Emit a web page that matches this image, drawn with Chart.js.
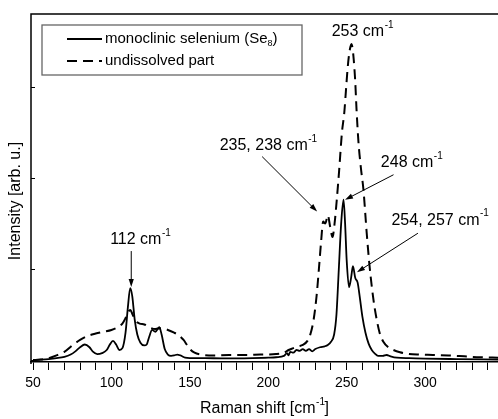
<!DOCTYPE html>
<html>
<head>
<meta charset="utf-8">
<script src="https://cdn.jsdelivr.net/npm/chart.js@4/dist/chart.umd.min.js"></script>
<style>
  html, body { margin: 0; padding: 0; background: #fff; }
  #wrap { width: 498px; height: 419px; }
</style>
</head>
<body>
<div id="wrap"><canvas id="c" width="498" height="419"></canvas></div>
<script>
// Raman spectra: monoclinic Se8 and the undissolved residue
const monoShift = [50, 55, 60, 65, 70, 74, 77, 80, 83, 86, 88, 91, 94, 97, 99, 101, 103, 105, 107, 109,
  110.5, 112, 113.3, 114.8, 116.5, 118.5, 121, 122.5, 124, 126, 128, 130.5, 132, 134, 136, 138, 140, 142,
  144, 147, 150, 160, 170, 180, 190, 200, 205, 210, 212, 213, 214, 216, 218, 220, 222, 224, 226, 228, 230,
  233, 236, 238, 240, 242, 243.5, 245, 246.5, 248, 249, 250, 251.5, 252.8, 254, 255.5, 257, 258.3, 260,
  262, 264, 266, 268, 270, 273, 275.5, 278, 282, 290, 300, 320, 347];
const monoIntensity = [0.0, 0.004, 0.01, 0.02, 0.035, 0.06, 0.095, 0.14, 0.17, 0.14, 0.095, 0.065, 0.075,
  0.11, 0.17, 0.21, 0.17, 0.11, 0.13, 0.3, 0.58, 0.79, 0.7, 0.45, 0.28, 0.19, 0.16, 0.17, 0.25, 0.33, 0.31,
  0.36, 0.28, 0.12, 0.06, 0.045, 0.05, 0.06, 0.05, 0.025, 0.02, 0.02, 0.018, 0.018, 0.02, 0.025, 0.03,
  0.045, 0.075, 0.05, 0.09, 0.08, 0.11, 0.1, 0.12, 0.1, 0.12, 0.095, 0.12, 0.14, 0.15, 0.165, 0.2, 0.28,
  0.5, 1.0, 1.5, 1.76, 1.5, 1.1, 0.8, 0.9, 1.03, 0.9, 0.85, 0.7, 0.48, 0.3, 0.18, 0.11, 0.07, 0.045,
  0.045, 0.055, 0.04, 0.025, 0.02, 0.015, 0.01, 0.005];

const undisShift = [50, 55, 60, 65, 70, 75, 80, 85, 90, 95, 100, 104, 107, 109, 110.8, 112, 113.5, 115.5,
  118, 121, 124, 128, 132, 136, 140, 143, 146, 148, 150, 153, 157, 165, 175, 185, 195, 205, 210, 213, 216,
  219, 222, 225, 227, 229, 230.8, 232.3, 233.7, 235, 236.4, 238, 239.4, 241, 242.3, 243.7, 245.2, 247,
  248.5, 249.5, 250.5, 251.5, 252.4, 253, 253.8, 254.5, 255.4, 256.3, 257.5, 259, 260.7, 262.8, 264.5,
  266, 267.6, 269.2, 271, 273.4, 276.5, 279.8, 284, 288.3, 295, 305, 315, 325, 335, 347];
const undisIntensity = [0.0, 0.005, 0.02, 0.05, 0.09, 0.16, 0.22, 0.265, 0.29, 0.31, 0.33, 0.36, 0.4,
  0.46, 0.53, 0.55, 0.5, 0.43, 0.4, 0.39, 0.36, 0.34, 0.35, 0.33, 0.3, 0.27, 0.22, 0.17, 0.12, 0.08, 0.06,
  0.05, 0.055, 0.055, 0.06, 0.065, 0.08, 0.11, 0.13, 0.15, 0.165, 0.21, 0.29, 0.45, 0.7, 1.0, 1.3, 1.52,
  1.5, 1.59, 1.47, 1.35, 1.5, 1.76, 2.08, 2.5, 2.72, 2.95, 3.18, 3.35, 3.44, 3.47, 3.42, 3.3, 3.08, 2.75,
  2.4, 2.12, 1.87, 1.39, 1.05, 0.81, 0.6, 0.44, 0.3, 0.2, 0.14, 0.11, 0.085, 0.07, 0.06, 0.055, 0.05,
  0.04, 0.03, 0.025];

const xTickValues = [50, 60, 70, 80, 90, 100, 110, 120, 130, 140, 150, 160, 170, 180, 190, 200, 210, 220,
  230, 240, 250, 260, 270, 280, 290, 300, 310, 320, 330, 340];
const xLabelStep = 50;
const yTickValues = [0, 1, 2, 3];

const legendNames = [
  [{ t: 'monoclinic selenium (Se' }, { t: '8', sub: true }, { t: ')' }],
  [{ t: 'undissolved part' }]
];
const xTitle = [{ t: 'Raman shift [cm' }, { t: '-1', sup: true }, { t: ']' }];
const yTitle = [{ t: 'Intensity [arb. u.]' }];

// peak annotations: which series, which band position, and the label text
const peakSeries = [0, 1, 0, 0, 1];
const peakShift = [112, 235, 248, 254, 253];
const peakText = ['112 cm', '235, 238 cm', '248 cm', '254, 257 cm', '253 cm'];

// placement of each note relative to its peak (pixels)
const noteLayout = [
  { tip: [1, -1], tail: [1, -37], label: [10, -48] },
  { tip: [-6, -10], tail: [-61, -65], label: [-55, -76] },
  { tip: [1.5, 0], tail: [50, -25], label: [68, -37] },
  { tip: [4, 6], tail: [65, -33], label: [87, -46] },
  { tip: null, tail: null, label: [11, -12] }
];

const FONT = '"Liberation Sans", Arial, Helvetica, sans-serif';
const seriesX = [monoShift, undisShift];
const seriesY = [monoIntensity, undisIntensity];

function drawParts(ctx, parts, x, y, size, align) {
  const small = Math.round(size * 0.62);
  let total = 0;
  const widths = parts.map(p => {
    ctx.font = `${(p.sup || p.sub) ? small : size}px ${FONT}`;
    const w = ctx.measureText(p.t).width;
    total += w;
    return w;
  });
  let cx = align === 'center' ? x - total / 2 : x;
  ctx.textAlign = 'left';
  ctx.textBaseline = 'middle';
  ctx.fillStyle = '#000';
  parts.forEach((p, i) => {
    ctx.font = `${(p.sup || p.sub) ? small : size}px ${FONT}`;
    let dy = 0;
    if (p.sup) dy = -size * 0.42;
    if (p.sub) dy = size * 0.3;
    ctx.fillText(p.t, cx + (p.sup ? 0.5 : 0), y + dy);
    cx += widths[i];
  });
}

function arrow(ctx, x0, y0, x1, y1) {
  const ang = Math.atan2(y1 - y0, x1 - x0);
  const len = 8, half = 2.6;
  ctx.strokeStyle = '#000';
  ctx.lineWidth = 1;
  ctx.beginPath();
  ctx.moveTo(x0, y0);
  ctx.lineTo(x1 - Math.cos(ang) * len * 0.8, y1 - Math.sin(ang) * len * 0.8);
  ctx.stroke();
  ctx.fillStyle = '#000';
  ctx.beginPath();
  ctx.moveTo(x1, y1);
  ctx.lineTo(x1 - Math.cos(ang) * len - Math.sin(ang) * half, y1 - Math.sin(ang) * len + Math.cos(ang) * half);
  ctx.lineTo(x1 - Math.cos(ang) * len + Math.sin(ang) * half, y1 - Math.sin(ang) * len - Math.cos(ang) * half);
  ctx.closePath();
  ctx.fill();
}

const framePlugin = {
  id: 'frame',
  afterDraw(chart) {
    const { ctx, chartArea: a, scales } = chart;
    const xs = scales.x, ys = scales.y;
    ctx.save();
    // left spine and top edge
    ctx.strokeStyle = '#000';
    ctx.lineWidth = 1.5;
    ctx.beginPath();
    ctx.moveTo(a.left, a.bottom + 2);
    ctx.lineTo(a.left, a.top);
    ctx.lineTo(chart.width, a.top);
    ctx.stroke();
    // inward ticks on the intensity axis
    ctx.lineWidth = 1;
    yTickValues.forEach(v => {
      const py = Math.round(ys.getPixelForValue(v)) + 0.5;
      ctx.beginPath();
      ctx.moveTo(a.left, py);
      ctx.lineTo(a.left + 4, py);
      ctx.stroke();
    });

    // legend
    const lx = 42, ly = 25, lw = 260, lh = 50;
    ctx.strokeStyle = '#666';
    ctx.lineWidth = 1.3;
    ctx.strokeRect(lx, ly, lw, lh);
    const rows = [39, 61];
    chart.data.datasets.forEach((ds, i) => {
      ctx.strokeStyle = '#000';
      ctx.lineWidth = ds.borderWidth;
      ctx.setLineDash(ds.borderDash || []);
      ctx.beginPath();
      ctx.moveTo(67, rows[i]);
      ctx.lineTo(102, rows[i]);
      ctx.stroke();
      ctx.setLineDash([]);
      drawParts(ctx, legendNames[i], 105, rows[i], 15, 'left');
    });

    // peak notes
    peakShift.forEach((s, i) => {
      const xsArr = seriesX[peakSeries[i]];
      const idx = xsArr.indexOf(s);
      const px = xs.getPixelForValue(s);
      const py = ys.getPixelForValue(seriesY[peakSeries[i]][idx]);
      const L = noteLayout[i];
      if (L.tip) arrow(ctx, px + L.tail[0], py + L.tail[1], px + L.tip[0], py + L.tip[1]);
      drawParts(ctx, [{ t: peakText[i] }, { t: '-1', sup: true }], px + L.label[0], py + L.label[1], 16, 'center');
    });

    // axis titles
    drawParts(ctx, xTitle, (a.left + a.right) / 2, 409, 16, 'center');
    ctx.translate(16, 201);
    ctx.rotate(-Math.PI / 2);
    drawParts(ctx, yTitle, 0, 0, 16, 'center');
    ctx.restore();
  }
};

new Chart(document.getElementById('c'), {
  type: 'line',
  data: {
    datasets: [
      {
        label: 'monoclinic selenium (Se8)',
        data: monoShift.map((x, i) => ({ x, y: monoIntensity[i] })),
        borderColor: '#000',
        borderWidth: 1.8,
        pointRadius: 0,
        cubicInterpolationMode: 'monotone',
        fill: false
      },
      {
        label: 'undissolved part',
        data: undisShift.map((x, i) => ({ x, y: undisIntensity[i] })),
        borderColor: '#000',
        borderWidth: 2,
        borderDash: [10, 6],
        pointRadius: 0,
        cubicInterpolationMode: 'monotone',
        fill: false
      }
    ]
  },
  options: {
    responsive: false,
    animation: false,
    devicePixelRatio: 1,
    layout: { padding: { top: 14, right: 0, left: 0, bottom: 0 } },
    plugins: { legend: { display: false }, tooltip: { enabled: false } },
    scales: {
      x: {
        type: 'linear',
        min: 48.72,
        max: 346.5,
        afterBuildTicks: s => { s.ticks = xTickValues.map(v => ({ value: v })); },
        afterFit: s => { s.height = 57; },
        ticks: {
          autoSkip: false,
          maxRotation: 0,
          padding: 5,
          color: '#000',
          font: { family: FONT, size: 14 },
          callback: v => (v % xLabelStep === 0 ? String(v) : '')
        },
        grid: { drawOnChartArea: false, drawTicks: true, tickLength: 8, color: '#000', lineWidth: 1 },
        border: { display: true, color: '#000', width: 1.5 }
      },
      y: {
        type: 'linear',
        min: -0.022,
        max: 3.8,
        afterFit: s => { s.width = 31; },
        ticks: { display: false },
        grid: { display: false },
        border: { display: false }
      }
    }
  },
  plugins: [framePlugin]
});
</script>
</body>
</html>
